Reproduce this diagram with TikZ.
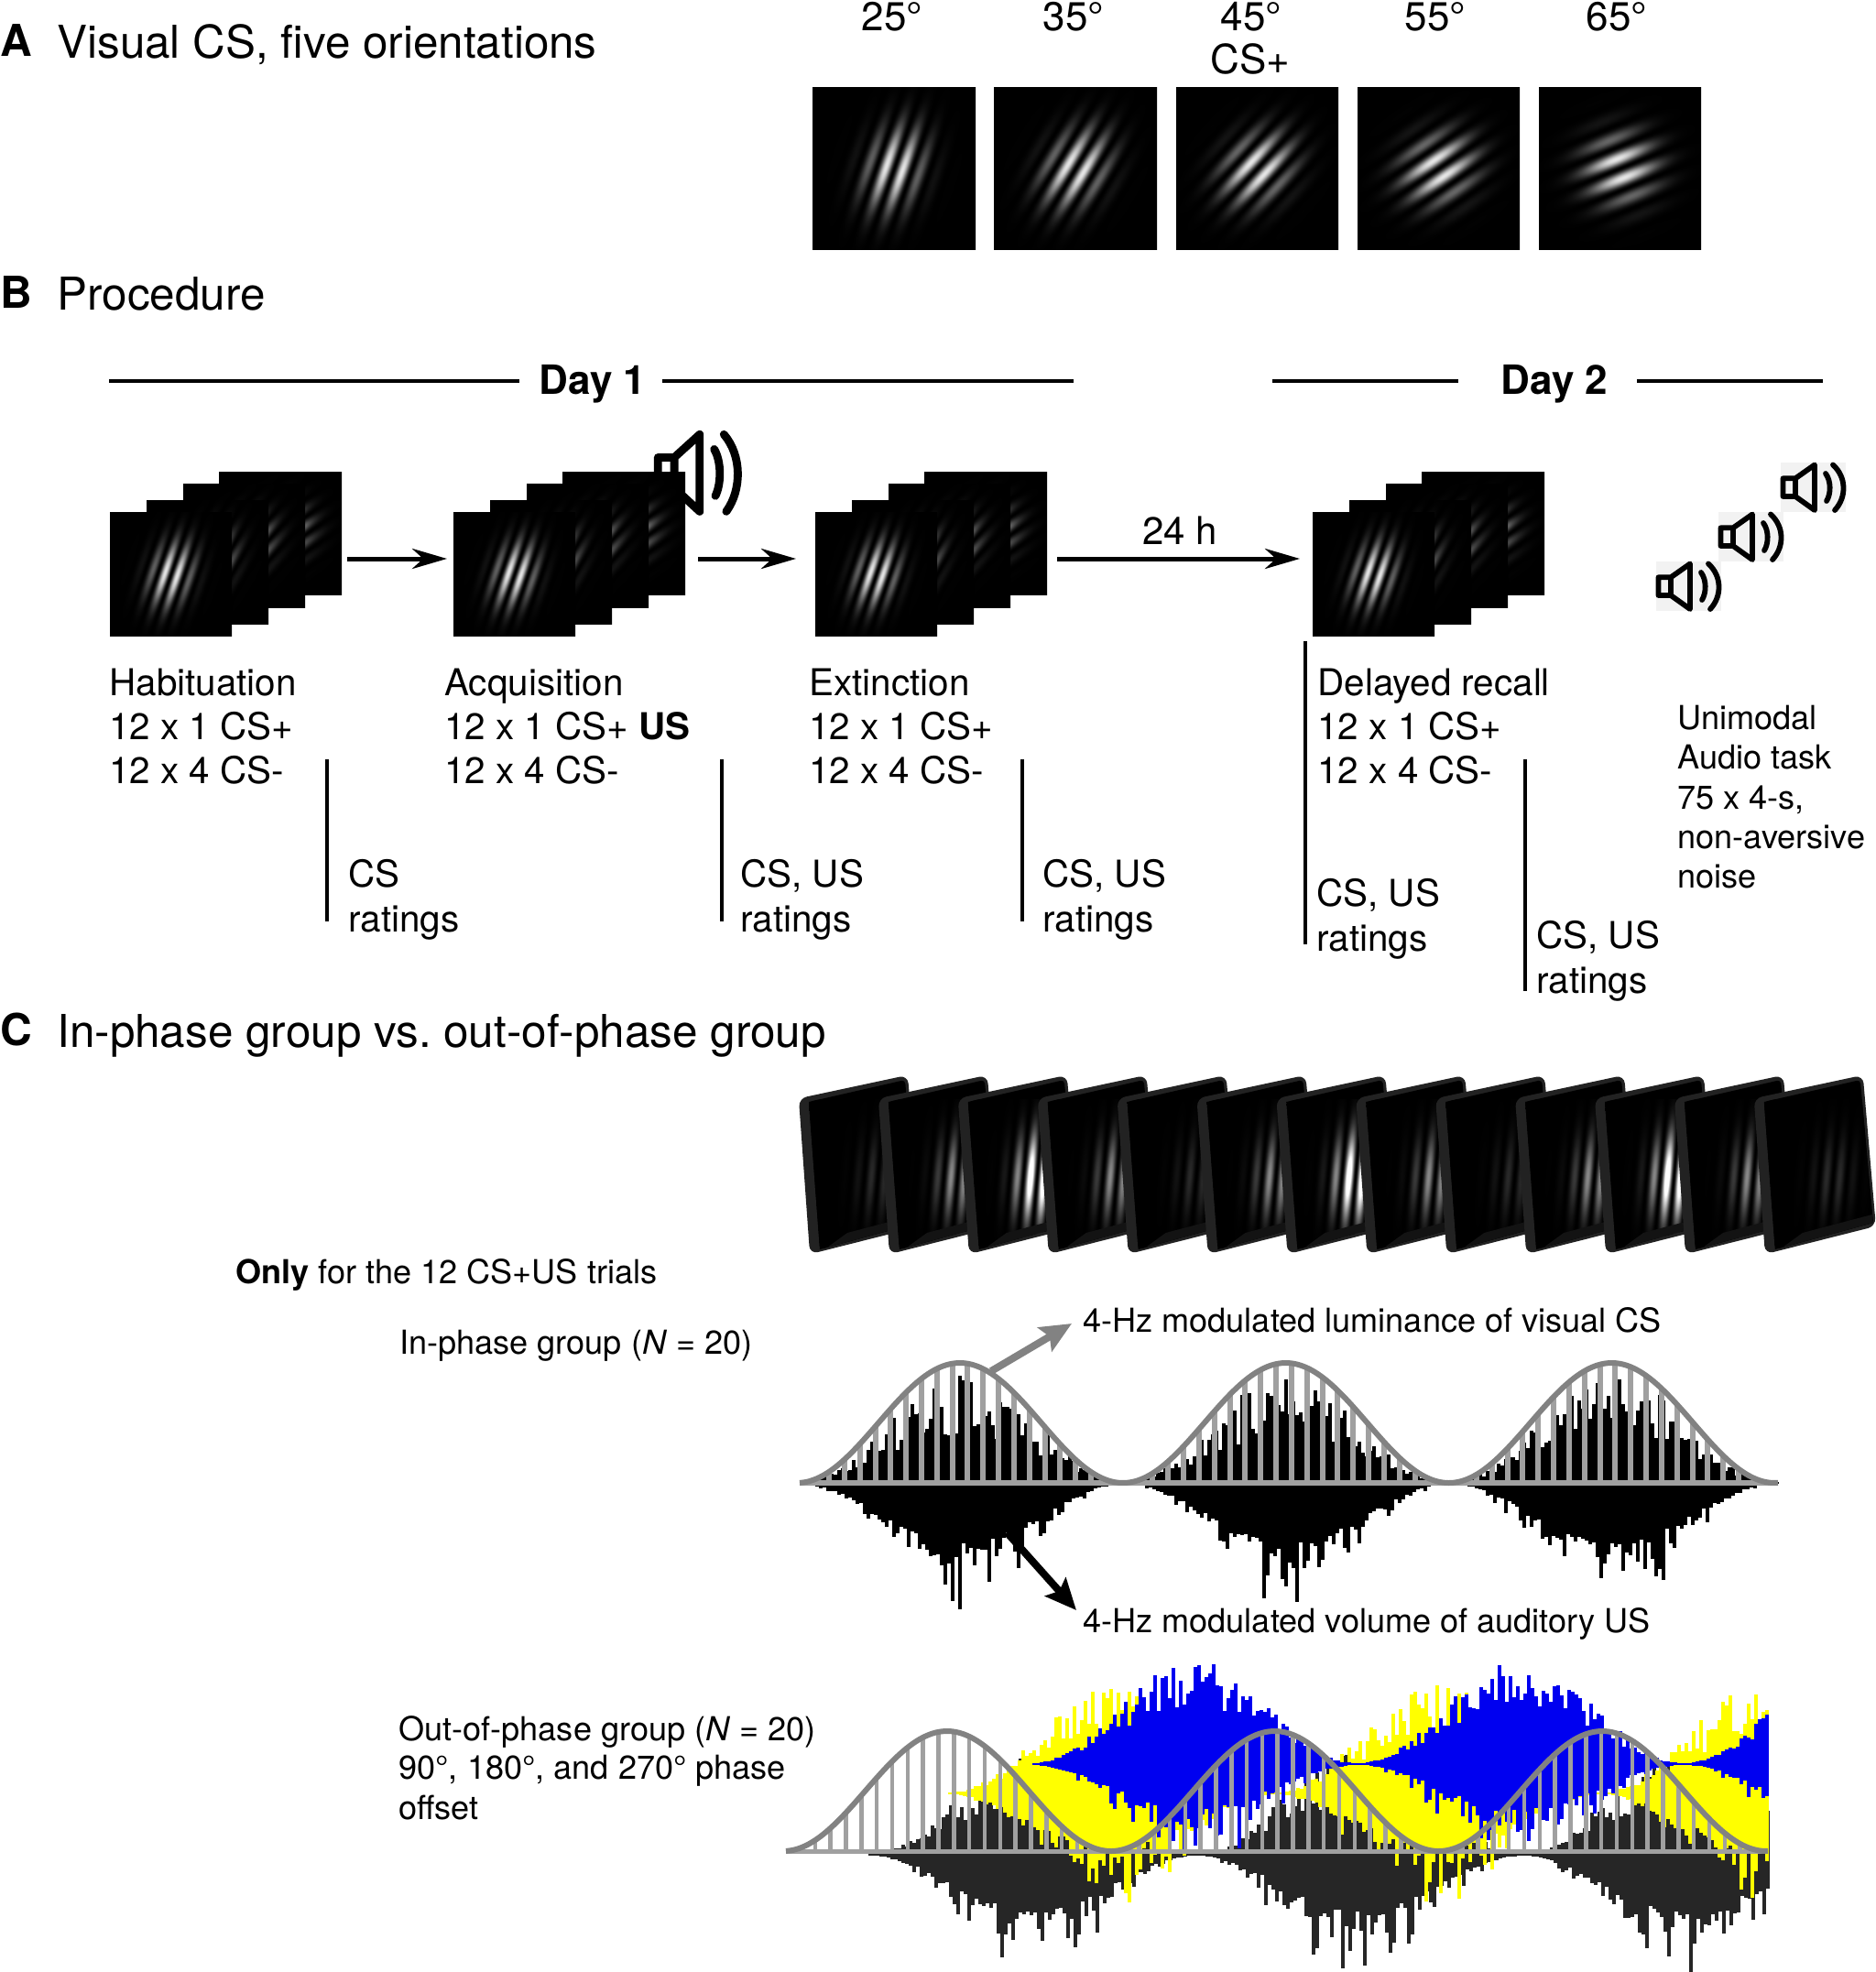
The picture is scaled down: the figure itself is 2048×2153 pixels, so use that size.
\documentclass[tikz,border=0pt]{standalone}
\usepackage{fontspec}
\setmainfont{TeX Gyre Heros}
\usetikzlibrary{arrows.meta}
\frenchspacing
\definecolor{lgr}{HTML}{A0A0A0}
\definecolor{mgr}{HTML}{828282}
\definecolor{blk}{HTML}{262626}
\definecolor{frm}{HTML}{222222}
\definecolor{frw}{HTML}{131313}
\definecolor{spkbg}{HTML}{F2F2F2}
\definecolor{ylw}{HTML}{FFFF00}
\definecolor{blu}{HTML}{0000F0}
\newcommand\mkgabor[6]{%
 \pgfmathsetmacro\gS{sin(#2)}\pgfmathsetmacro\gC{cos(#2)}%
 \pgfmathsetmacro\gL{360/#3}\pgfmathsetmacro\gU{1/(2*#4*#4)}%
 \pgfmathsetmacro\gV{1/(2*#5*#5)}\edef\gB{#6}%
 \edef\gTmp{\noexpand\pgfdeclarefunctionalshading{#1}{\noexpand\pgfpointorigin}{\noexpand\pgfpoint{100bp}{100bp}}{}{50 sub exch 50 sub exch 2 copy \gS\space mul neg exch \gC\space mul add 3 1 roll \gC\space mul exch \gS\space mul add dup mul \gV\space mul neg exch dup dup mul \gU\space mul neg exch \gL\space mul cos 1 exch sub 0.5 mul 3 1 roll add 2.71828 exch exp mul \gB\space mul dup dup}}%
 \gTmp}
\mkgabor{gxxv}{19}{5.3}{5.5}{8.8}{1}
\mkgabor{gxxxv}{31}{5.5}{5.8}{8.5}{1}
\mkgabor{gxlv}{43}{5.7}{6.1}{8.1}{1}
\mkgabor{glv}{56}{6.0}{6.5}{7.8}{1}
\mkgabor{glxv}{68}{6.4}{6.9}{7.4}{1}
\mkgabor{fhi}{5}{4.4}{4.6}{9}{1.4}
\mkgabor{fmid}{5}{4.4}{4.6}{9}{0.6}
\mkgabor{flo}{5}{4.4}{4.6}{9}{0.18}
\tikzset{
 tA/.style={anchor=base west,inner sep=0pt,font=\fontsize{24.7pt}{28pt}\selectfont},
 tL/.style={anchor=base west,inner sep=0pt,font=\fontsize{24pt}{28pt}\bfseries\selectfont},
 tB/.style={anchor=base west,inner sep=0pt,font=\fontsize{20.2pt}{24pt}\selectfont},
 tS/.style={anchor=base west,inner sep=0pt,font=\fontsize{18.05pt}{22pt}\selectfont},
 tD/.style={anchor=base,inner sep=0pt,font=\fontsize{22pt}{26pt}\selectfont},
 tDay/.style={anchor=base,inner sep=0pt,font=\fontsize{22pt}{26pt}\bfseries\selectfont},
 rule/.style={line width=2pt,black},
 arr/.style={line width=2.5pt,-{Stealth[length=19pt,width=11pt,inset=6pt]}},
 garr/.style={line width=4pt,mgr,-{Stealth[length=17pt,width=15pt,inset=3pt]}},
 barr/.style={line width=4pt,black,-{Stealth[length=17pt,width=15pt,inset=3pt]}},
 envl/.style={line width=3pt,mgr,line join=round},
}
\newcommand\spk[5]{\begin{scope}[shift={(#1,#2)},xscale=#3,yscale=#4]
 \draw[line width=#5,line join=round,line cap=round]
   (2.5,17.3) rectangle (16,37)
   (16,17.3) -- (37,2.5) -- (37,52) -- (16,37);
 \draw[line width=#5,line cap=round] (49,12) .. controls (55,20) and (55,34) .. (50,42);
 \draw[line width=#5,line cap=round] (57,2.5) .. controls (72,16) and (72,38) .. (59,52);
\end{scope}}
\newcommand\gstack[1]{\begin{scope}[shift={(#1,0)}]
 \shade[shading=glv] (239,515) rectangle (373,649);
 \shade[shading=gxlv] (200,528) rectangle (333,663);
 \shade[shading=gxxxv] (160,546) rectangle (293,681);
 \shade[shading=gxxv] (120,559) rectangle (253,694);
\end{scope}}
% color, centre y, x0, x1, node x, up base, up var, down base, down var
\newcommand\wavefill[9]{%
 \foreach \xx in {#3,\the\numexpr#3+4\relax,...,#4}{%
  \pgfmathsetmacro\eenv{0.5*(1-cos(1.0118*(\xx-#5)))}%
  \pgfmathsetmacro\hu{\eenv*(#6+#7*rnd)+1}%
  \pgfmathsetmacro\hd{\eenv*(#8+#9*rnd*rnd)+1}%
  \fill[#1] (\xx,#2-\hu) rectangle (\xx+4.4,#2+\hd);
 }}
% baseline y, first bar, node x, bar width, number, factor
\newcommand\lumbars[6]{%
 \foreach \kk in {0,...,#5}{%
  \pgfmathsetmacro\bx{#2+16.83*\kk}%
  \pgfmathsetmacro\bh{131*0.5*(1-cos(#6*(\bx-#3)))}%
  \fill[lgr] (\bx-#4/2,#1) rectangle (\bx+#4/2,#1-\bh);
 }}
\begin{document}
\begin{tikzpicture}[x=0.5pt,y=-0.5pt]
\useasboundingbox (0,0) rectangle (2048,2153);
\pgfmathsetseed{11}
% Panel A
\node[tL] (lA) at (0,61) {A};
\node[tA] (hA) at (62,63) {Visual CS, five orientations};
\node[tD] (d25) at (974,33) {25°};
\node[tD] (d35) at (1172,33) {35°};
\node[tD] (d45) at (1366,33) {45°};
\node[tD] (csp) at (1365,80) {CS+};
\node[tD] (d55) at (1567,33) {55°};
\node[tD] (d65) at (1765,33) {65°};
\shade[shading=gxxv] (887,95) rectangle (1065,272);
\shade[shading=gxxxv] (1085,95) rectangle (1263,272);
\shade[shading=gxlv] (1284,95) rectangle (1461,272);
\shade[shading=glv] (1482,95) rectangle (1659,272);
\shade[shading=glxv] (1680,95) rectangle (1857,272);
% Panel B
\node[tL] (lB) at (0,336) {B};
\node[tA] (hB) at (62,338) {Procedure};
\node[tDay] (day1) at (647,430) {Day 1};
\node[tDay] (day2) at (1697,430) {Day 2};
\coordinate (d1a) at (119,416); \coordinate (d1b) at (567,416);
\coordinate (d1c) at (723,416); \coordinate (d1d) at (1172,416);
\coordinate (d2a) at (1389,416); \coordinate (d2b) at (1592,416);
\coordinate (d2c) at (1787,416); \coordinate (d2d) at (1990,416);
\draw[rule] (d1a) -- (d1b); \draw[rule] (d1c) -- (d1d);
\draw[rule] (d2a) -- (d2b); \draw[rule] (d2c) -- (d2d);
\spk{715}{470}{1.32}{1.7}{4.4pt}
\gstack{0}\gstack{375}\gstack{770}\gstack{1313}
\coordinate (a1s) at (379,610); \coordinate (a1e) at (488,610);
\coordinate (a2s) at (762,610); \coordinate (a2e) at (869,610);
\coordinate (a3s) at (1154,610); \coordinate (a3e) at (1419,610);
\draw[arr] (a1s) -- (a1e);
\draw[arr] (a2s) -- (a2e);
\draw[arr] (a3s) -- (a3e);
\node[tD,font=\fontsize{21pt}{25pt}\selectfont] (h24) at (1288,594) {24 h};
\fill[spkbg] (1944,505) rectangle +(71,54);
\fill[spkbg] (1876,559) rectangle +(71,54);
\fill[spkbg] (1808,613) rectangle +(71,54);
\spk{1944}{505}{1}{1}{2.9pt}
\spk{1876}{559}{1}{1}{2.9pt}
\spk{1808}{613}{1}{1}{2.9pt}
\node[tB] (h1) at (119,759) {Habituation};
\node[tB] (h2) at (119,807) {12 x 1 CS+};
\node[tB] (h3) at (119,855) {12 x 4 CS-};
\node[tB] (q1) at (485,759) {Acquisition};
\node[tB] (q2) at (485,807) {12 x 1 CS+ \textbf{US}};
\node[tB] (q3) at (485,855) {12 x 4 CS-};
\node[tB] (e1) at (883,759) {Extinction};
\node[tB] (e2) at (883,807) {12 x 1 CS+};
\node[tB] (e3) at (883,855) {12 x 4 CS-};
\node[tB] (r1) at (1438,759) {Delayed recall};
\node[tB] (r2) at (1438,807) {12 x 1 CS+};
\node[tB] (r3) at (1438,855) {12 x 4 CS-};
\coordinate (v1a) at (357,829); \coordinate (v1b) at (357,1006);
\coordinate (v2a) at (788,829); \coordinate (v2b) at (788,1006);
\coordinate (v3a) at (1116,829); \coordinate (v3b) at (1116,1006);
\coordinate (v4a) at (1425,700); \coordinate (v4b) at (1425,1031);
\coordinate (v5a) at (1665,829); \coordinate (v5b) at (1665,1082);
\draw[rule] (v1a) -- (v1b); \draw[rule] (v2a) -- (v2b); \draw[rule] (v3a) -- (v3b);
\draw[rule] (v4a) -- (v4b); \draw[rule] (v5a) -- (v5b);
\node[tB] (c1a) at (380,968) {CS};
\node[tB] (c1b) at (380,1017) {ratings};
\node[tB] (c2a) at (808,968) {CS, US};
\node[tB] (c2b) at (808,1017) {ratings};
\node[tB] (c3a) at (1138,968) {CS, US};
\node[tB] (c3b) at (1138,1017) {ratings};
\node[tB] (c4a) at (1437,989) {CS, US};
\node[tB] (c4b) at (1437,1038) {ratings};
\node[tB] (c5a) at (1677,1035) {CS, US};
\node[tB] (c5b) at (1677,1084) {ratings};
\node[tS] (u1) at (1831,796) {Unimodal};
\node[tS] (u2) at (1831,839) {Audio task};
\node[tS] (u3) at (1831,883) {75 x 4-s,};
\node[tS] (u4) at (1831,926) {non-aversive};
\node[tS] (u5) at (1831,969) {noise};
% Panel C
\node[tL] (lC) at (0,1141) {C};
\node[tA] (hC) at (62,1143) {In-phase group vs. out-of-phase group};
\foreach \i/\sh in {0/flo,1/fmid,2/fhi,3/fmid,4/flo,5/fmid,6/fhi,7/fmid,8/flo,9/fmid,10/fhi,11/fmid,12/flo}{
 \begin{scope}[shift={(873+86.9*\i,1200)}]
  \fill[frm,draw=frm,line width=1pt,rounded corners=4pt] (0,0) -- (117,-25) -- (131,138) -- (12,168) -- cycle;
  \fill[black,rounded corners=2pt] (10,3) -- (115,-21) -- (129,135) -- (22,164) -- cycle;
  \begin{scope}
   \clip (10,3) -- (115,-21) -- (129,135) -- (22,164) -- cycle;
   \shade[shading=\sh] (0,0) rectangle (170,170);
   \fill[frw] (30,162) -- (52,146) -- (128,126) -- (130,138) -- cycle;
  \end{scope}
 \end{scope}
}
\node[tS] (only) at (257,1401) {\textbf{Only} for the 12 CS+US trials};
\node[tS] (inph) at (436,1478) {In-phase group (\textit{N} = 20)};
\node[tS] (lum) at (1182,1454) {4-Hz modulated luminance of visual CS};
\node[tS] (vol) at (1182,1782) {4-Hz modulated volume of auditory US};
\node[tS] (o1) at (435,1900) {Out-of-phase group (\textit{N} = 20)};
\node[tS] (o2) at (435,1942) {90°, 180°, and 270° phase};
\node[tS] (o3) at (435,1986) {offset};
% in-phase waveform
\wavefill{black}{1619}{874}{1940}{870}{52}{65}{65}{78}
\fill[lgr] (873,1616) rectangle (1941,1622);
\lumbars{1619}{905}{870}{6}{61}{1.0118}
\draw[envl] plot[domain=873:1941,samples=200,smooth] (\x,{1619-131*0.5*(1-cos(1.0118*(\x-870)))});
\coordinate (ga) at (1082,1497); \coordinate (gb) at (1170,1445);
\coordinate (ba) at (1099,1673); \coordinate (bb) at (1175,1758);
\draw[garr] (ga) -- (gb);
\draw[barr] (ba) -- (bb);
% out-of-phase waveform
\wavefill{blk}{2025}{948}{1930}{948}{55}{60}{60}{85}
\wavefill{ylw}{1958}{1035}{1930}{1035}{60}{60}{58}{75}
\wavefill{blu}{1926}{1127}{1930}{1124}{62}{50}{48}{70}
\fill[lgr] (858,2019) rectangle (1930,2024);
\lumbars{2021}{873}{855}{4.5}{62}{1.00643}
\draw[envl] plot[domain=858:1930,samples=200,smooth] (\x,{2021-131*0.5*(1-cos(1.00643*(\x-855)))});
\end{tikzpicture}
\end{document}
